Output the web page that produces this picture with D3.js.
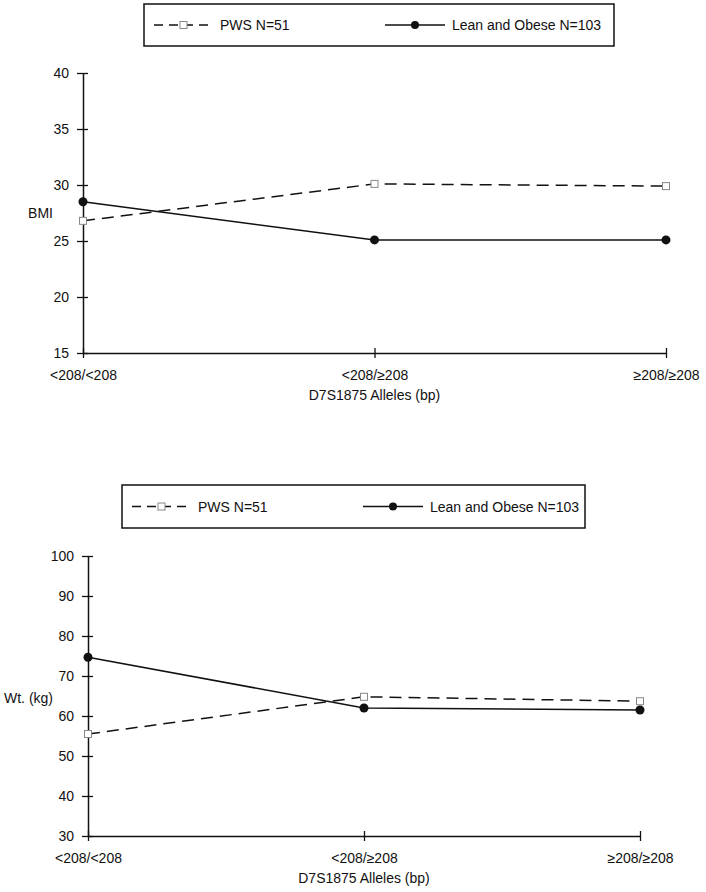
<!DOCTYPE html>
<html><head><meta charset="utf-8">
<script src="https://cdn.jsdelivr.net/npm/d3@7"></script>
<style>body{margin:0;background:#fff}svg{display:block}text{font-family:"Liberation Sans",Arial,sans-serif;fill:#111}</style>
</head><body>
<script>
const categories = ["<208/<208", "<208/\u2265208", "\u2265208/\u2265208"];
const seriesNames = ["PWS N=51", "Lean and Obese N=103"];
const bmiPWS = [26.8, 30.1, 29.9];
const bmiLean = [28.5, 25.1, 25.1];
const wtPWS = [55.5, 64.8, 63.7];
const wtLean = [74.7, 62.0, 61.5];
const bmiTicks = [15, 20, 25, 30, 35, 40];
const wtTicks = [30, 40, 50, 60, 70, 80, 90, 100];
const xTitle = "D7S1875 Alleles (bp)";

const svg = d3.select("body").append("svg").attr("width", 706).attr("height", 892);

function panel(o) {
  const g = svg.append("g");
  const x = d3.scalePoint().domain(categories).range([o.x0, o.x1]);
  const y = d3.scaleLinear().domain(o.domain).range([o.y0, o.y1]);
  // legend
  const lg = g.append("g");
  lg.append("rect").attr("x", o.lx0).attr("y", o.ly0).attr("width", o.lx1 - o.lx0).attr("height", o.ly1 - o.ly0)
    .attr("fill", "none").attr("stroke", "#111").attr("stroke-width", 1.5);
  const ly = (o.ly0 + o.ly1) / 2;
  lg.append("line").attr("x1", o.lx0 + 10).attr("x2", o.lx0 + 69).attr("y1", ly).attr("y2", ly)
    .attr("stroke", "#111").attr("stroke-width", 1.5).attr("stroke-dasharray", "9,6");
  lg.append("rect").attr("x", o.lx0 + 36).attr("y", ly - 3.5).attr("width", 7).attr("height", 7)
    .attr("fill", "#fff").attr("stroke", "#888").attr("stroke-width", 1);
  lg.append("text").attr("x", o.lx0 + 76).attr("y", ly + 5).attr("font-size", 14).text(seriesNames[0]);
  lg.append("line").attr("x1", o.lx0 + 241).attr("x2", o.lx0 + 301).attr("y1", ly).attr("y2", ly)
    .attr("stroke", "#111").attr("stroke-width", 1.5);
  lg.append("circle").attr("cx", o.lx0 + 271).attr("cy", ly).attr("r", 4).attr("fill", "#111");
  lg.append("text").attr("x", o.lx0 + 308).attr("y", ly + 5).attr("font-size", 14).text(seriesNames[1]);

  // y axis
  const ya = g.append("g").attr("transform", `translate(${o.x0},0)`)
    .call(d3.axisLeft(y).tickValues(o.ticks).tickSize(6).tickSizeOuter(0).tickPadding(8));
  ya.select(".domain").attr("stroke", "#111").attr("stroke-width", 1.5);
  ya.selectAll(".tick line").attr("x1", 5).attr("stroke", "#111").attr("stroke-width", 1.3);
  ya.selectAll(".tick text").attr("font-size", 14).attr("font-family", '"Liberation Sans",Arial,sans-serif').attr("fill", "#111");
  // x axis
  const xa = g.append("g").attr("transform", `translate(0,${o.y0})`)
    .call(d3.axisBottom(x).tickSize(5).tickSizeOuter(0).tickPadding(12));
  xa.select(".domain").attr("stroke", "#111").attr("stroke-width", 1.5);
  xa.selectAll(".tick line").attr("y1", -5).attr("stroke", "#111").attr("stroke-width", 1.3);
  xa.selectAll(".tick text").attr("font-size", 14).attr("font-family", '"Liberation Sans",Arial,sans-serif').attr("fill", "#111");
  g.append("text").attr("x", x(categories[1])).attr("y", o.y0 + 47).attr("text-anchor", "middle")
    .attr("font-size", 14).text(xTitle);
  g.append("text").attr("x", o.yLabX).attr("y", o.yLabY).attr("text-anchor", "end").attr("font-size", 14).text(o.yLabel);

  const line = d3.line().x((d, i) => x(categories[i])).y(d => y(d));
  g.append("path").datum(o.pws).attr("d", line).attr("fill", "none").attr("stroke", "#111")
    .attr("stroke-width", 1.5).attr("stroke-dasharray", "12,7");
  g.append("path").datum(o.lean).attr("d", line).attr("fill", "none").attr("stroke", "#111")
    .attr("stroke-width", 1.5);
  g.selectAll(".sq").data(o.pws).enter().append("rect")
    .attr("x", (d, i) => x(categories[i]) - 3.5).attr("y", d => y(d) - 3.5).attr("width", 7).attr("height", 7)
    .attr("fill", "#fff").attr("stroke", "#888").attr("stroke-width", 1);
  g.selectAll(".ci").data(o.lean).enter().append("circle")
    .attr("cx", (d, i) => x(categories[i])).attr("cy", d => y(d)).attr("r", 4.5).attr("fill", "#111");
}

panel({x0: 83, x1: 666, y0: 353, y1: 73, domain: [15, 40], ticks: bmiTicks, pws: bmiPWS, lean: bmiLean,
  lx0: 144, lx1: 614, ly0: 4, ly1: 46, yLabel: "BMI", yLabX: 53, yLabY: 218});
panel({x0: 88, x1: 640, y0: 836, y1: 556, domain: [30, 100], ticks: wtTicks, pws: wtPWS, lean: wtLean,
  lx0: 122, lx1: 585, ly0: 485, ly1: 528, yLabel: "Wt. (kg)", yLabX: 53, yLabY: 703});
</script>
</body></html>
